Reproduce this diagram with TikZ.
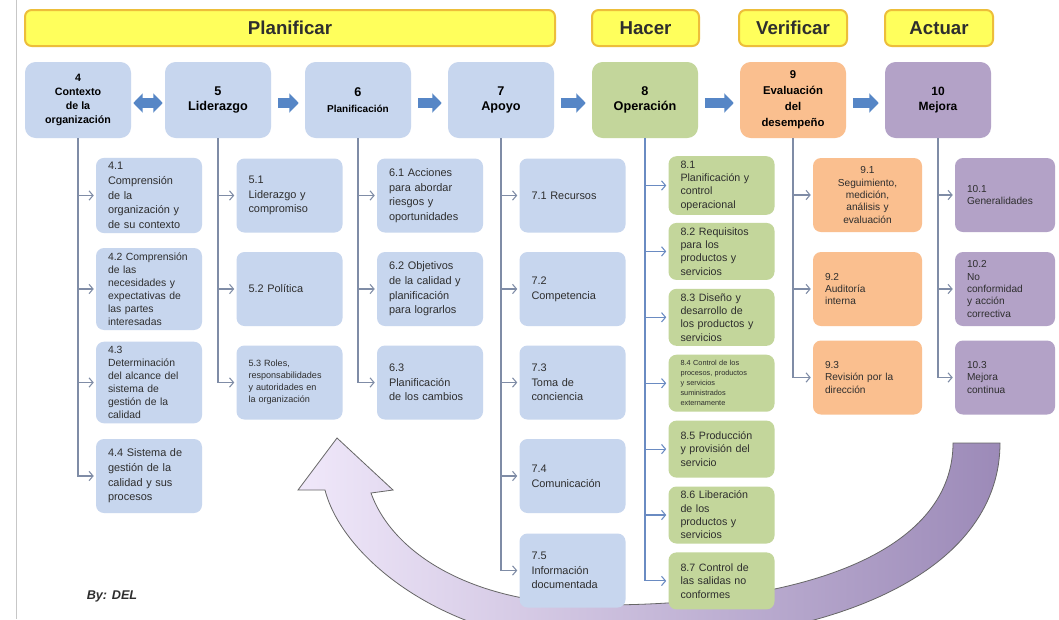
\documentclass[tikz,border=0pt]{standalone}
\usepackage{fontspec}
\setmainfont{Liberation Sans}
\usetikzlibrary{arrows.meta,calc}
\definecolor{bbox}{HTML}{C7D6EE}
\definecolor{gbox}{HTML}{C3D69B}
\definecolor{obox}{HTML}{FABF8F}
\definecolor{pbox}{HTML}{B3A2C7}
\definecolor{hdr}{HTML}{FFFF5C}
\definecolor{hdrb}{HTML}{EDBE3A}
\definecolor{connc}{HTML}{7F8CA6}
\definecolor{connb}{HTML}{6A8BC2}
\definecolor{barr}{HTML}{5686C6}
\definecolor{arrL}{HTML}{F0E8FA}
\definecolor{arrR}{HTML}{9C8AB8}
\definecolor{txt}{HTML}{2E2E2E}
\begin{document}
\begin{tikzpicture}[x=0.75pt,y=-0.75pt,
  hdrbox/.style={draw=hdrb, line width=1.5pt, fill=hdr, rounded corners=5pt, minimum height=27pt, inner sep=0pt, font=\fontsize{14}{16}\selectfont\bfseries, text=txt},
  mainbox/.style={rounded corners=8pt, minimum width=79.5pt, minimum height=57pt, align=center, inner sep=1pt, text=black},
  sub/.style={rounded corners=6pt, minimum width=79.5pt, text width=61.5pt, inner xsep=9pt, minimum height=55.5pt, align=left, font=\fontsize{8.2}{11}\selectfont, text=txt},
  subb/.style={sub, fill=bbox},
  subg/.style={sub, fill=gbox, minimum height=42.75pt, font=\fontsize{8}{10}\selectfont},
  subo/.style={sub, fill=obox, minimum width=81.75pt, text width=63.75pt, font=\fontsize{7.6}{9.3}\selectfont},
  subp/.style={sub, fill=pbox, minimum width=75pt, text width=57pt, inner xsep=9pt, font=\fontsize{7.6}{9.3}\selectfont},
  conn/.style={draw=connc, line width=0.8pt, -{Straight Barb[length=3pt,width=7pt]}, shorten >=1.5pt},
  connB/.style={conn, draw=connb},
  blk/.style={draw=barr, line width=7.5pt, -{Triangle[length=7pt,width=14pt]}, shorten <=5pt, shorten >=4.5pt},
  dblk/.style={draw=barr, line width=7.5pt, {Triangle[length=7pt,width=14pt]}-{Triangle[length=7pt,width=14pt]}, shorten <=1.5pt, shorten >=1.5pt}
]
\clip (0,0) rectangle (1059,619);
\fill[white] (0,0) rectangle (1059,619);
\draw[black!22] (16,0) -- (16,619);

% big return arrow
\path[draw=black!60, line width=0.6pt, left color=arrL, right color=arrR]
 (1000,443) .. controls (1000,565) and (850,645) .. (600,645)
 .. controls (450,645) and (343,560) .. (325,490)
 -- (298,490) -- (337,438) -- (393,490) -- (371,493)
 .. controls (392,552) and (470,605) .. (600,605)
 .. controls (820,605) and (953,545) .. (953,443) -- cycle;

% headers
\node[hdrbox, minimum width=397.5pt] (hP) at (290,28) {Planificar};
\node[hdrbox, minimum width=80.25pt] (hH) at (645.5,28) {Hacer};
\node[hdrbox, minimum width=81pt] (hV) at (793,28) {Verificar};
\node[hdrbox, minimum width=81pt] (hA) at (939,28) {Actuar};

% main boxes
\node[mainbox, fill=bbox, font=\fontsize{8}{10.5}\selectfont\bfseries] (m4) at (78,100) {4\\Contexto\\de la\\organización};
\node[mainbox, fill=bbox, font=\fontsize{9.5}{11.5}\selectfont\bfseries] (m5) at (218,100) {5\\Liderazgo};
\node[mainbox, fill=bbox, font=\fontsize{9.5}{11.5}\selectfont\bfseries] (m6) at (358,100) {6\\{\fontsize{7.5}{9}\selectfont Planificación}};
\node[mainbox, fill=bbox, font=\fontsize{9.5}{11.5}\selectfont\bfseries] (m7) at (501,100) {7\\Apoyo};
\node[mainbox, fill=gbox, font=\fontsize{9.5}{11.5}\selectfont\bfseries] (m8) at (645,100) {8\\Operación};
\node[mainbox, fill=obox, font=\fontsize{8.5}{12}\selectfont\bfseries] (m9) at (793,100) {9\\Evaluación\\del\\desempeño};
\node[mainbox, fill=pbox, font=\fontsize{9}{11.5}\selectfont\bfseries] (m10) at (938,100) {10\\Mejora};

% block arrows
\draw[dblk] ([yshift=-2.25pt]m4.east) -- ([yshift=-2.25pt]m5.west);
\draw[blk] ([yshift=-2.25pt]m5.east) -- ([yshift=-2.25pt]m6.west);
\draw[blk] ([yshift=-2.25pt]m6.east) -- ([yshift=-2.25pt]m7.west);
\draw[blk] ([yshift=-2.25pt]m7.east) -- ([yshift=-2.25pt]m8.west);
\draw[blk] ([yshift=-2.25pt]m8.east) -- ([yshift=-2.25pt]m9.west);
\draw[blk] ([yshift=-2.25pt]m9.east) -- ([yshift=-2.25pt]m10.west);

% column 4
\node[subb] (s41) at (149,195.5) {4.1\\Comprensión\\de la\\organización y\\de su contexto};
\node[subb, font=\fontsize{7.8}{9.8}\selectfont] (s42) at (149,289) {4.2 Comprensión\\de las\\necesidades y\\expectativas de\\las partes\\interesadas};
\node[subb, font=\fontsize{7.8}{9.8}\selectfont] (s43) at (149,382.5) {4.3\\Determinación\\del alcance del\\sistema de\\gestión de la\\calidad};
\node[subb] (s44) at (149,476) {4.4 Sistema de\\gestión de la\\calidad y sus\\procesos};
% column 5
\node[subb] (s51) at (289.5,195.5) {5.1\\Liderazgo y\\compromiso};
\node[subb] (s52) at (289.5,289) {5.2 Política};
\node[subb, font=\fontsize{6.8}{9}\selectfont] (s53) at (289.5,382.5) {5.3 Roles,\\responsabilidades\\y autoridades en\\la organización};
% column 6
\node[subb] (s61) at (430,195.5) {6.1 Acciones\\para abordar\\riesgos y\\oportunidades};
\node[subb] (s62) at (430,289) {6.2 Objetivos\\de la calidad y\\planificación\\para lograrlos};
\node[subb] (s63) at (430,382.5) {6.3\\Planificación\\de los cambios};
% column 7
\node[subb] (s71) at (572.5,195.5) {7.1 Recursos};
\node[subb] (s72) at (572.5,289) {7.2\\Competencia};
\node[subb] (s73) at (572.5,382.5) {7.3\\Toma de\\conciencia};
\node[subb] (s74) at (572.5,476) {7.4\\Comunicación};
\node[subb] (s75) at (572.5,570.5) {7.5\\Información\\documentada};
% column 8
\node[subg] (s81) at (721.5,185.5) {8.1\\Planificación y\\control\\operacional};
\node[subg] (s82) at (721.5,251.4) {8.2 Requisitos\\para los\\productos y\\servicios};
\node[subg] (s83) at (721.5,317.3) {8.3 Diseño y\\desarrollo de\\los productos y\\servicios};
\node[subg, font=\fontsize{5.5}{7.5}\selectfont] (s84) at (721.5,383.2) {8.4 Control de los\\procesos, productos\\y servicios\\suministrados\\externamente};
\node[subg] (s85) at (721.5,449.1) {8.5 Producción\\y provisión del\\servicio};
\node[subg] (s86) at (721.5,515) {8.6 Liberación\\de los\\productos y\\servicios};
\node[subg] (s87) at (721.5,580.9) {8.7 Control de\\las salidas no\\conformes};
% column 9
\node[subo, align=center] (s91) at (867.5,195) {9.1\\Seguimiento,\\medición,\\análisis y\\evaluación};
\node[subo] (s92) at (867.5,289) {9.2\\Auditoría\\interna};
\node[subo] (s93) at (867.5,377.5) {9.3\\Revisión por la\\dirección};
% column 10
\node[subp] (s101) at (1005,195) {10.1\\Generalidades};
\node[subp] (s102) at (1005,289) {10.2\\No\\conformidad\\y acción\\correctiva};
\node[subp] (s103) at (1005,377.5) {10.3\\Mejora\\continua};

% connectors
\foreach \p/\c in {m4/s41,m4/s42,m4/s43,m4/s44,m5/s51,m5/s52,m5/s53,m6/s61,m6/s62,m6/s63,
  m7/s71,m7/s72,m7/s73,m7/s74,m7/s75,m9/s91,m9/s92,m9/s93,m10/s101,m10/s102,m10/s103}
  \draw[conn] (\p.south) |- (\c.west);
\foreach \c in {s81,s82,s83,s84,s85,s86,s87}
  \draw[connB] (m8.south) |- (\c.west);

\node[font=\fontsize{9.5}{11}\selectfont\bfseries\itshape, text=txt] (by) at (112,596) {By: DEL};
\end{tikzpicture}
\end{document}
